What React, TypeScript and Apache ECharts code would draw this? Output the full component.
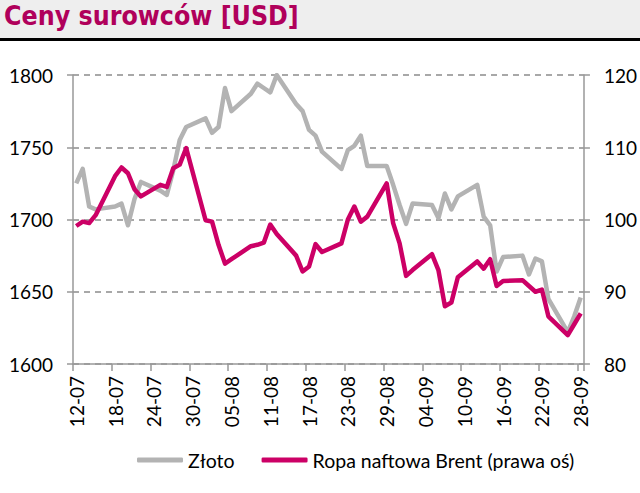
import React, { useEffect, useRef } from "react";
import * as echarts from "echarts";

// Calendar days on the category axis (12-07 .. 28-09)
const axisDays = [
  "12-07","13-07","14-07","15-07","16-07","17-07","18-07","19-07","20-07","21-07",
  "22-07","23-07","24-07","25-07","26-07","27-07","28-07","29-07","30-07","31-07",
  "01-08","02-08","03-08","04-08","05-08","06-08","07-08","08-08","09-08","10-08",
  "11-08","12-08","13-08","14-08","15-08","16-08","17-08","18-08","19-08","20-08",
  "21-08","22-08","23-08","24-08","25-08","26-08","27-08","28-08","29-08","30-08",
  "31-08","01-09","02-09","03-09","04-09","05-09","06-09","07-09","08-09","09-09",
  "10-09","11-09","12-09","13-09","14-09","15-09","16-09","17-09","18-09","19-09",
  "20-09","21-09","22-09","23-09","24-09","25-09","26-09","27-09","28-09",
];

// Trading days with observations
const dates = [
  "12-07","13-07","14-07","15-07","18-07","19-07","20-07","21-07","22-07","25-07",
  "26-07","27-07","28-07","29-07",
  "01-08","02-08","03-08","04-08","05-08","08-08","09-08","10-08","11-08","12-08",
  "15-08","16-08","17-08","18-08","19-08","22-08","23-08","24-08","25-08","26-08",
  "29-08","30-08","31-08",
  "01-09","02-09","05-09","06-09","07-09","08-09","09-09","12-09","13-09","14-09",
  "15-09","16-09","19-09","20-09","21-09","22-09","23-09","26-09","27-09","28-09",
];

const gold = [
  1725, 1735, 1709, 1707, 1709, 1711, 1696, 1714, 1726, 1720,
  1717, 1734, 1755, 1764,
  1770, 1760, 1764, 1791, 1775, 1787, 1794, 1791, 1788, 1800,
  1780, 1775, 1762, 1758, 1747, 1735, 1748, 1751, 1758, 1737,
  1737, 1724, 1710,
  1697, 1711, 1710, 1701, 1718, 1707, 1716, 1724, 1702, 1696,
  1664, 1674, 1675, 1662, 1673, 1671, 1645, 1622, 1633, 1646,
];

const brent = [
  99.1, 99.7, 99.5, 100.6, 106.0, 107.2, 106.4, 104.2, 103.2, 104.8,
  104.5, 107.1, 107.6, 109.9,
  99.9, 99.7, 96.5, 93.9, 94.5, 96.3, 96.5, 96.8, 99.3, 98.0,
  95.0, 92.8, 93.5, 96.6, 95.5, 96.7, 100.0, 101.8, 99.7, 100.4,
  105.0, 99.5, 96.7,
  92.2, 93.0, 95.2, 93.0, 88.0, 88.5, 92.0, 94.2, 93.2, 94.5,
  90.8, 91.5, 91.6, 90.8, 90.0, 90.3, 86.6, 84.0, 85.5, 87.0,
];

const seriesNames = ["Złoto", "Ropa naftowa Brent (prawa oś)"];
const titleText = "Ceny surowców [USD]";

const GREY = "#b3b3b3";
const CRIMSON = "#cc0066";
const FONT = "Lato";

export default function App() {
  const ref = useRef<HTMLDivElement>(null);

  useEffect(() => {
    if (!ref.current) return;
    const chart = echarts.init(ref.current, undefined, { renderer: "svg" });
    const axisLabelStyle = { color: "#000", fontFamily: FONT, fontSize: 19 };
    chart.setOption({
      animation: false,
      backgroundColor: "#ffffff",
      title: {
        text: titleText,
        left: 4,
        top: 2,
        padding: 0,
        textStyle: {
          color: "#b0005b",
          fontFamily: "DejaVu Sans Condensed",
          fontWeight: "bold",
          fontSize: 26.5,
        },
      },
      graphic: [
        { type: "rect", z: -10, shape: { x: 0, y: 0, width: 640, height: 38 }, style: { fill: "#eeeeee" } },
        { type: "rect", z: -10, shape: { x: 0, y: 38, width: 640, height: 3 }, style: { fill: "#000000" } },
      ],
      grid: { left: 73, right: 51, top: 75, bottom: 129, containLabel: false },
      legend: {
        left: 137,
        top: 450,
        padding: 0,
        itemWidth: 46,
        itemHeight: 5,
        itemGap: 27,
        icon: "roundRect",
        textStyle: { color: "#000", fontFamily: FONT, fontSize: 19.5 },
        data: seriesNames,
      },
      xAxis: {
        type: "category",
        data: axisDays,
        boundaryGap: true,
        axisLine: { lineStyle: { color: "#999", width: 1.5 } },
        axisTick: { show: true, interval: 5, length: 7, lineStyle: { color: "#999", width: 1.5 } },
        axisLabel: { ...axisLabelStyle, interval: 5, rotate: 90, margin: 12 },
        splitLine: { show: false },
      },
      yAxis: [
        {
          type: "value",
          min: 1600,
          max: 1800,
          interval: 50,
          axisLine: { show: true, lineStyle: { color: "#999", width: 1.5 } },
          axisTick: { show: true, length: 6, lineStyle: { color: "#999", width: 1.5 } },
          axisLabel: { ...axisLabelStyle, margin: 20, formatter: (v: number) => String(v) },
          splitLine: { show: true, lineStyle: { color: "#8c8c8c", width: 1.5, type: [6, 5] } },
        },
        {
          type: "value",
          min: 80,
          max: 120,
          interval: 10,
          axisLine: { show: true, lineStyle: { color: "#999", width: 1.5 } },
          axisTick: { show: true, length: 6, lineStyle: { color: "#999", width: 1.5 } },
          axisLabel: { ...axisLabelStyle, margin: 20, formatter: (v: number) => String(v) },
          splitLine: { show: false },
        },
      ],
      series: [
        {
          name: seriesNames[0],
          type: "line",
          yAxisIndex: 0,
          data: dates.map((d, i) => [d, gold[i]]),
          symbol: "none",
          color: GREY,
          lineStyle: { color: GREY, width: 4.5, join: "round" },
        },
        {
          name: seriesNames[1],
          type: "line",
          yAxisIndex: 1,
          data: dates.map((d, i) => [d, brent[i]]),
          symbol: "none",
          color: CRIMSON,
          lineStyle: { color: CRIMSON, width: 4.5, join: "round" },
        },
      ],
    });
    return () => chart.dispose();
  }, []);

  return (
    <div
      ref={ref}
      style={{ position: "fixed", left: 0, top: 0, width: 640, height: 493 }}
    />
  );
}
